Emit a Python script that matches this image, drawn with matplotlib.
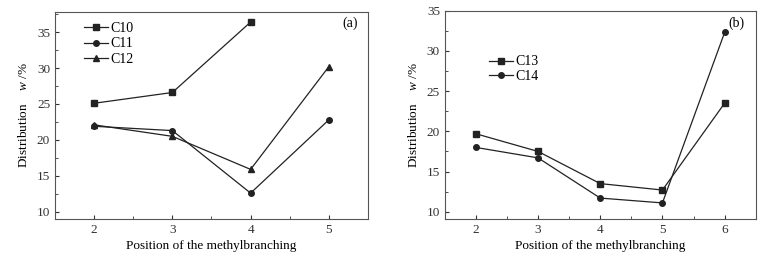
import matplotlib
matplotlib.use('Agg')
import matplotlib.pyplot as plt
from matplotlib.ticker import MultipleLocator

plt.rcParams['font.family'] = ['Liberation Serif', 'DejaVu Serif']
plt.rcParams['mathtext.fontset'] = 'custom'
plt.rcParams['mathtext.rm'] = 'Liberation Serif'
plt.rcParams['mathtext.it'] = 'Liberation Serif:italic'

# panel (a)
pos_a = [2, 3, 4, 5]
c10 = [25.1, 26.6, 36.4]
c11 = [21.9, 21.3, 12.6, 22.8]
c12 = [22.1, 20.5, 15.9, 30.2]

# panel (b)
pos_b = [2, 3, 4, 5, 6]
c13 = [19.7, 17.5, 13.5, 12.7, 23.5]
c14 = [18.0, 16.7, 11.7, 11.1, 32.3]

fig = plt.figure(figsize=(7.66, 2.58), dpi=100)
ax1 = fig.add_axes([0.0718, 0.1512, 0.4086, 0.8023])
ax2 = fig.add_axes([0.5806, 0.1512, 0.406, 0.8073])

lc = '#222222'
lw = 0.9

ax1.plot(pos_a[:3], c10, color=lc, lw=lw, marker='s', ms=4, label='C10')
ax1.plot(pos_a, c11, color=lc, lw=lw, marker='o', ms=4, label='C11')
ax1.plot(pos_a, c12, color=lc, lw=lw, marker='^', ms=4, label='C12')
ax1.set_xlim(1.5, 5.5)
ax1.set_ylim(9.0, 37.8)
ax1.text(0.968, 0.945, '(a)', transform=ax1.transAxes, ha='right', va='center', fontsize=10)

ax2.plot(pos_b, c13, color=lc, lw=lw, marker='s', ms=4, label='C13')
ax2.plot(pos_b, c14, color=lc, lw=lw, marker='o', ms=4, label='C14')
ax2.set_xlim(1.5, 6.5)
ax2.set_ylim(9.1, 35)
ax2.text(0.965, 0.94, '(b)', transform=ax2.transAxes, ha='right', va='center', fontsize=10)

for ax in (ax1, ax2):
    ax.xaxis.set_major_locator(MultipleLocator(1))
    ax.xaxis.set_minor_locator(MultipleLocator(0.5))
    ax.yaxis.set_major_locator(MultipleLocator(5))
    ax.yaxis.set_minor_locator(MultipleLocator(2.5))
    ax.tick_params(which='both', direction='in', top=False, right=False, labelsize=9.5, colors='#333333')
    ax.tick_params(which='major', length=3)
    ax.tick_params(which='minor', length=2)
    for s in ax.spines.values():
        s.set_color('#555555')
        s.set_linewidth(0.8)
    ax.set_xlabel('Position of the methylbranching', fontsize=9.5, labelpad=3)
    ax.set_ylabel('Distribution    $\\it{w}$ /%', fontsize=9.5, labelpad=5)

ax1.legend(loc='upper left', bbox_to_anchor=(0.094, 0.95), frameon=False, fontsize=10,
           handlelength=1.7, handletextpad=0.2, labelspacing=0.15, borderpad=0, borderaxespad=0)
ax2.legend(loc='upper left', bbox_to_anchor=(0.143, 0.785), frameon=False, fontsize=10,
           handlelength=1.7, handletextpad=0.2, labelspacing=0.1, borderpad=0, borderaxespad=0)

fig.savefig('out.png', dpi=100)
